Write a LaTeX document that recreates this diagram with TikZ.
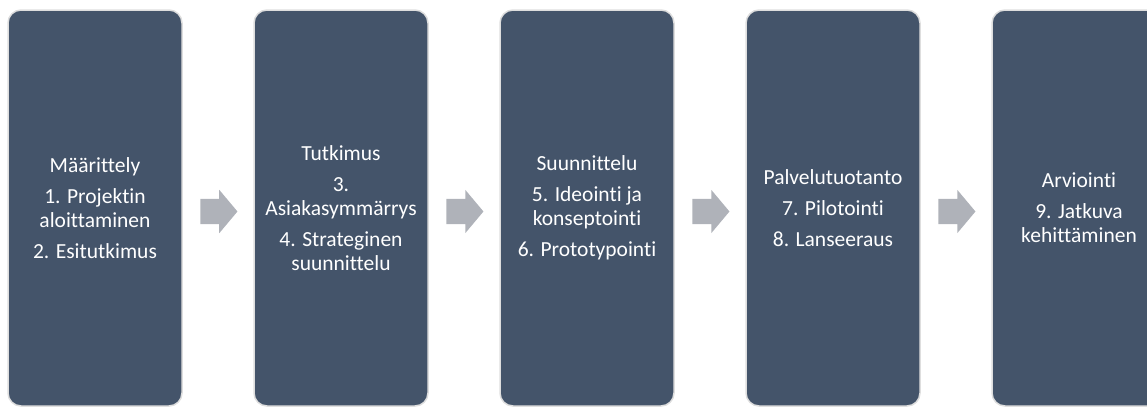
\documentclass[tikz,border=0pt]{standalone}
\usepackage{fontspec}
\setmainfont{Carlito}[Ligatures=NoCommon]
\usetikzlibrary{positioning,shapes.arrows}
\definecolor{phasefill}{RGB}{68,84,106}
\definecolor{phaseedge}{RGB}{222,222,222}
\definecolor{arrowfill}{RGB}{175,178,185}

\begin{document}
\begin{tikzpicture}[x=1pt, y=-1pt, node distance=70.5pt,
  phase/.style={rectangle, rounded corners=13pt, fill=phasefill, draw=phaseedge, line width=1.5pt, minimum width=174pt, minimum height=396pt, inner sep=0pt, text=white, align=center, font=\fontsize{21.5}{24}\selectfont},
  flow/.style={single arrow, fill=arrowfill, minimum height=37pt, inner xsep=0pt, inner ysep=12.5pt, single arrow head extend=9pt, single arrow tip angle=100, yshift=-3.5pt}]
\useasboundingbox (0,0) rectangle (1147,407);
\node[phase] (maar) at (95,208) {Määrittely\\[7pt]1. Projektin\\aloittaminen\\[7pt]2. Esitutkimus};
\node[phase, right=of maar] (tutk) {Tutkimus\\[7pt]3.\\Asiakasymmärrys\\[7pt]4. Strateginen\\suunnittelu};
\node[phase, right=of tutk] (suun) {Suunnittelu\\[7pt]5. Ideointi ja\\konseptointi\\[7pt]6. Prototypointi};
\node[phase, right=of suun] (palv) {Palvelutuotanto\\[7pt]7. Pilotointi\\[7pt]8. Lanseeraus};
\node[phase, right=of palv] (arvi) {Arviointi\\[7pt]9. Jatkuva\\kehittäminen};
\node[flow, right=17.5pt of maar] (a1) {};
\node[flow, right=17.5pt of tutk] (a2) {};
\node[flow, right=17.5pt of suun] (a3) {};
\node[flow, right=17.5pt of palv] (a4) {};
\end{tikzpicture}
\end{document}
